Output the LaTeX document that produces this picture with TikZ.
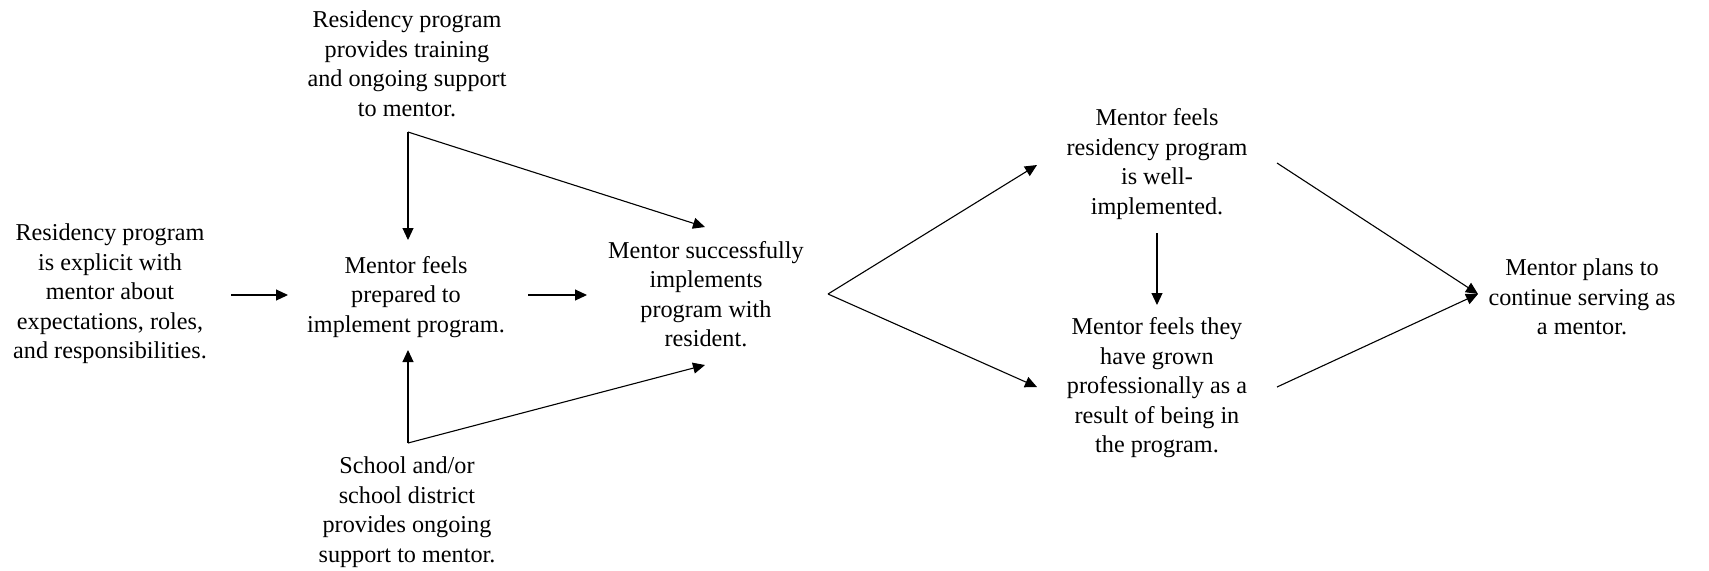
\documentclass[tikz,border=0pt]{standalone}
\usepackage{fontspec}
\setmainfont{Liberation Serif}
\usetikzlibrary{arrows.meta}
\tikzset{
  txt/.style={align=center, inner sep=0pt, font=\rmfamily\fontsize{12.1}{14.75}\selectfont},
  arr/.style={line width=0.55pt, -{Triangle[length=6pt,width=5.5pt]}}
}
\begin{document}
\begin{tikzpicture}[x=0.5pt,y=-0.5pt]
\useasboundingbox (0,0) rectangle (1709,570);
% nodes
\node[txt] (A) at (407,64) {Residency program\\provides training\\and ongoing support\\to mentor.};
\node[txt] (B) at (110,294) {Residency program\\is explicit with\\mentor about\\expectations, roles,\\and responsibilities.};
\node[txt] (C) at (406,297) {Mentor feels\\prepared to\\implement program.};
\node[txt] (D) at (706,294) {Mentor successfully\\implements\\program with\\resident.};
\node[txt] (E) at (407,512) {School and/or\\school district\\provides ongoing\\support to mentor.};
\node[txt] (F) at (1157,164) {Mentor feels\\residency program\\is well-\\implemented.};
\node[txt] (G) at (1157,388) {Mentor feels they\\have grown\\professionally as a\\result of being in\\the program.};
\node[txt] (H) at (1582,297) {Mentor plans to\\continue serving as\\a mentor.};
% junction and end coordinates
\coordinate (tv) at (408,132);
\coordinate (bv) at (408,443);
\coordinate (dv) at (828,294);
\coordinate (Bout) at (231,295);
\coordinate (Cin) at (288,295);
\coordinate (Cout) at (528,295);
\coordinate (Din) at (587,295);
\coordinate (Ctop) at (408,240);
\coordinate (Cbot) at (408,350);
\coordinate (Dtop) at (705,227);
\coordinate (Dbot) at (705,365);
\coordinate (Fin) at (1037,165);
\coordinate (Gin) at (1037,387);
\coordinate (Fout) at (1277,163);
\coordinate (Gout) at (1277,387);
\coordinate (Fdown) at (1157,233);
\coordinate (Gup) at (1157,305);
\coordinate (Hin) at (1478,294);
% connectors
\draw[arr] (Bout) -- (Cin);
\draw[arr] (Cout) -- (Din);
\draw[arr] (tv) -- (Ctop);
\draw[arr] (tv) -- (Dtop);
\draw[arr] (bv) -- (Cbot);
\draw[arr] (bv) -- (Dbot);
\draw[arr] (dv) -- (Fin);
\draw[arr] (dv) -- (Gin);
\draw[arr] (Fdown) -- (Gup);
\draw[arr] (Fout) -- (Hin);
\draw[arr] (Gout) -- (Hin);
\end{tikzpicture}
\end{document}
